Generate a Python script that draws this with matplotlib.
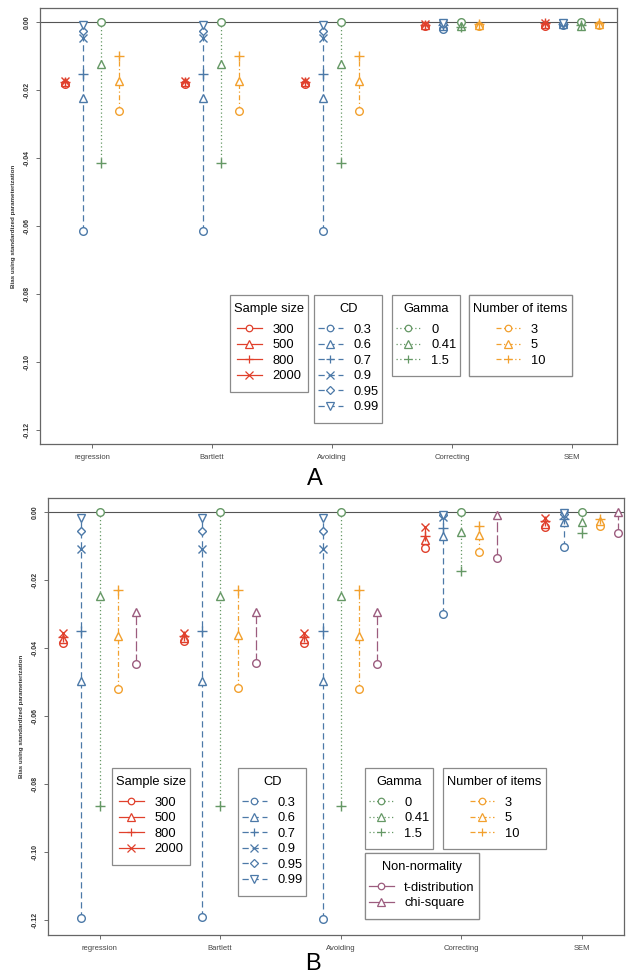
import matplotlib
matplotlib.use("Agg")
import matplotlib.pyplot as plt
from matplotlib.lines import Line2D
from matplotlib.offsetbox import DrawingArea

plt.rcParams['font.family'] = ['Liberation Sans', 'DejaVu Sans']

methods = ["regression", "Bartlett", "Avoiding", "Correcting", "SEM"]
sample_sizes = ["300", "500", "800", "2000"]
cd_levels = ["0.3", "0.6", "0.7", "0.9", "0.95", "0.99"]
gamma_levels = ["0", "0.41", "1.5"]
item_levels = ["3", "5", "10"]
nonnorm_levels = ["t-distribution", "chi-square"]

# panel A: one row per method
a_sample = [[-0.0181, -0.0178, -0.0176, -0.0174],
            [-0.0181, -0.0178, -0.0176, -0.0174],
            [-0.0181, -0.0178, -0.0176, -0.0174],
            [-0.0013, -0.0010, -0.0008, -0.0005],
            [-0.0011, -0.0007, -0.0004, -0.0002]]
a_cd = [[-0.0614, -0.0223, -0.0153, -0.0048, -0.0028, -0.0009],
        [-0.0614, -0.0223, -0.0153, -0.0048, -0.0028, -0.0009],
        [-0.0614, -0.0223, -0.0153, -0.0048, -0.0028, -0.0009],
        [-0.0020, -0.0012, -0.0009, -0.0006, -0.0005, -0.0004],
        [-0.0010, -0.0007, -0.0005, -0.0004, -0.0003, -0.0002]]
a_gamma = [[0.0, -0.0124, -0.0416],
           [0.0, -0.0124, -0.0416],
           [0.0, -0.0124, -0.0416],
           [0.0, -0.0012, -0.0015],
           [0.0, -0.0012, -0.0008]]
a_items = [[-0.0262, -0.0174, -0.0099],
           [-0.0262, -0.0174, -0.0099],
           [-0.0262, -0.0174, -0.0099],
           [-0.0013, -0.0009, -0.0006],
           [-0.0010, -0.0006, -0.0003]]

# panel B
b_sample = [[-0.0384, -0.0374, -0.0368, -0.0357],
            [-0.0380, -0.0372, -0.0366, -0.0355],
            [-0.0384, -0.0374, -0.0368, -0.0357],
            [-0.0107, -0.0082, -0.0070, -0.0043],
            [-0.0045, -0.0035, -0.0028, -0.0017]]
b_cd = [[-0.1195, -0.0497, -0.0350, -0.0109, -0.0056, -0.0019],
        [-0.1190, -0.0497, -0.0350, -0.0109, -0.0056, -0.0019],
        [-0.1196, -0.0497, -0.0350, -0.0109, -0.0056, -0.0019],
        [-0.0300, -0.0070, -0.0048, -0.0014, -0.0010, -0.0008],
        [-0.0104, -0.0030, -0.0022, -0.0010, -0.0006, -0.0004]]
b_gamma = [[0.0, -0.0247, -0.0866],
           [0.0, -0.0247, -0.0866],
           [0.0, -0.0247, -0.0866],
           [0.0, -0.0058, -0.0173],
           [0.0, -0.0030, -0.0061]]
b_items = [[-0.0521, -0.0364, -0.0229],
           [-0.0517, -0.0362, -0.0229],
           [-0.0521, -0.0364, -0.0229],
           [-0.0119, -0.0068, -0.0041],
           [-0.0040, -0.0028, -0.0021]]
b_nonnorm = [[-0.0448, -0.0294],
             [-0.0443, -0.0294],
             [-0.0448, -0.0294],
             [-0.0136, -0.0010],
             [-0.0061, -0.0001]]

red = "#E0402C"
blue = "#4C79A8"
green = "#659865"
orange = "#F2A02E"
purple = "#9C5C7E"

ls_red = "-"
ls_blue = (0, (5, 3))
ls_green = (0, (1, 2))
ls_orange = (0, (4, 2, 1, 2))
ls_purple = (0, (8, 2.5))

m4 = ["o", "^", "+", "x"]
m6 = ["o", "^", "+", "x", "D", "v"]
m3 = ["o", "^", "+"]
m2 = ["o", "^"]

msize = {"o": 5.5, "^": 6, "+": 7.5, "x": 6, "D": 4.5, "v": 6}


def draw_series(ax, x, vals, color, ls, markers):
    ax.plot([x] * len(vals), vals, color=color, linestyle=ls, lw=0.9, zorder=2)
    for v, m in zip(vals, markers):
        ax.plot(x, v, marker=m, ms=msize[m], mec=color, mfc="white" if m not in "+x" else color,
                mew=1.0, linestyle="none", zorder=3)


def handle(color, ls, m):
    return Line2D([], [], color=color, linestyle=ls, lw=0.9, marker=m, ms=msize[m] * 0.85,
                  mec=color, mfc="white", mew=0.9)


def add_legend(fig, ax, title, labels, color, ls, markers, x, y):
    hs = [handle(color, ls, m) for m in markers]
    leg = ax.legend(hs, labels, title=title, loc="upper left",
                    bbox_to_anchor=(x / 629, 1 - y / 977), bbox_transform=fig.transFigure,
                    borderaxespad=0, fontsize=9.3, title_fontsize=9.3, handlelength=1.9,
                    handletextpad=0.8, labelspacing=0.27, borderpad=0.32, fancybox=False,
                    framealpha=1, edgecolor="#8a8a8a")
    # extra vertical room above the title, under the title and below the last row
    kids = leg._legend_box.get_children()
    kids.insert(0, DrawingArea(1, 0))
    kids.insert(2, DrawingArea(1, 1.0))
    leg._legend_box.sep = 2.7
    leg._legend_handle_box.get_children()[0].get_children().append(DrawingArea(1, 1.2))
    leg.get_frame().set_linewidth(0.9)
    ax.add_artist(leg)


def style_axes(ax, xlim, ylim):
    ax.set_xlim(*xlim)
    ax.set_ylim(*ylim)
    ax.axhline(0, color="#555555", lw=0.8, zorder=1)
    ax.set_xticks(range(1, 6))
    ax.set_xticklabels(methods, fontsize=5.5, color="#444444")
    ax.set_yticks([0, -0.02, -0.04, -0.06, -0.08, -0.10, -0.12])
    ax.set_yticklabels(["0.00", "-0.02", "-0.04", "-0.06", "-0.08", "-0.10", "-0.12"],
                       rotation=90, va="center", fontsize=5, fontweight="bold", color="#333333")
    ax.tick_params(axis="both", length=3, width=0.6, color="#555555", pad=4)
    for s in ax.spines.values():
        s.set_color("#666666")
        s.set_linewidth(0.9)
    ax.set_ylabel("Bias using standardized parameterization", fontsize=4.5,
                  fontweight="bold", color="#333333", labelpad=5)


fig = plt.figure(figsize=(6.29, 9.77), dpi=100)

# ---- panel A
axA = fig.add_axes([40 / 629, 1 - 444 / 977, 577 / 629, 436 / 977])
offA = [-0.225, -0.075, 0.075, 0.225]
for i in range(5):
    g = i + 1
    draw_series(axA, g + offA[0], a_sample[i], red, ls_red, m4)
    draw_series(axA, g + offA[1], a_cd[i], blue, ls_blue, m6)
    draw_series(axA, g + offA[2], a_gamma[i], green, ls_green, m3)
    draw_series(axA, g + offA[3], a_items[i], orange, ls_orange, m3)
style_axes(axA, (0.567, 5.375), (-0.1241, 0.0041))
add_legend(fig, axA, "Sample size", sample_sizes, red, ls_red, m4, 230, 295)
add_legend(fig, axA, "CD", cd_levels, blue, ls_blue, m6, 314, 295)
add_legend(fig, axA, "Gamma", gamma_levels, green, ls_green, m3, 392, 295)
add_legend(fig, axA, "Number of items", item_levels, orange, ls_orange, m3, 469, 295)

# ---- panel B
axB = fig.add_axes([48 / 629, 1 - 935 / 977, 576 / 629, 437 / 977])
offB = [-0.3, -0.15, 0.0, 0.15, 0.3]
for i in range(5):
    g = i + 1
    draw_series(axB, g + offB[0], b_sample[i], red, ls_red, m4)
    draw_series(axB, g + offB[1], b_cd[i], blue, ls_blue, m6)
    draw_series(axB, g + offB[2], b_gamma[i], green, ls_green, m3)
    draw_series(axB, g + offB[3], b_items[i], orange, ls_orange, m3)
    draw_series(axB, g + offB[4], b_nonnorm[i], purple, ls_purple, m2)
style_axes(axB, (0.572, 5.352), (-0.1244, 0.0041))
add_legend(fig, axB, "Sample size", sample_sizes, red, ls_red, m4, 112, 768)
add_legend(fig, axB, "CD", cd_levels, blue, ls_blue, m6, 238, 768)
add_legend(fig, axB, "Gamma", gamma_levels, green, ls_green, m3, 365, 768)
add_legend(fig, axB, "Number of items", item_levels, orange, ls_orange, m3, 443, 768)
add_legend(fig, axB, "Non-normality", nonnorm_levels, purple, "-", m2, 365, 853)

fig.text(315 / 629, 1 - 479 / 977, "A", fontsize=17, ha="center", va="center")
fig.text(313 / 629, 1 - 964 / 977, "B", fontsize=17, ha="center", va="center")

fig.savefig("out.png", dpi=100)
